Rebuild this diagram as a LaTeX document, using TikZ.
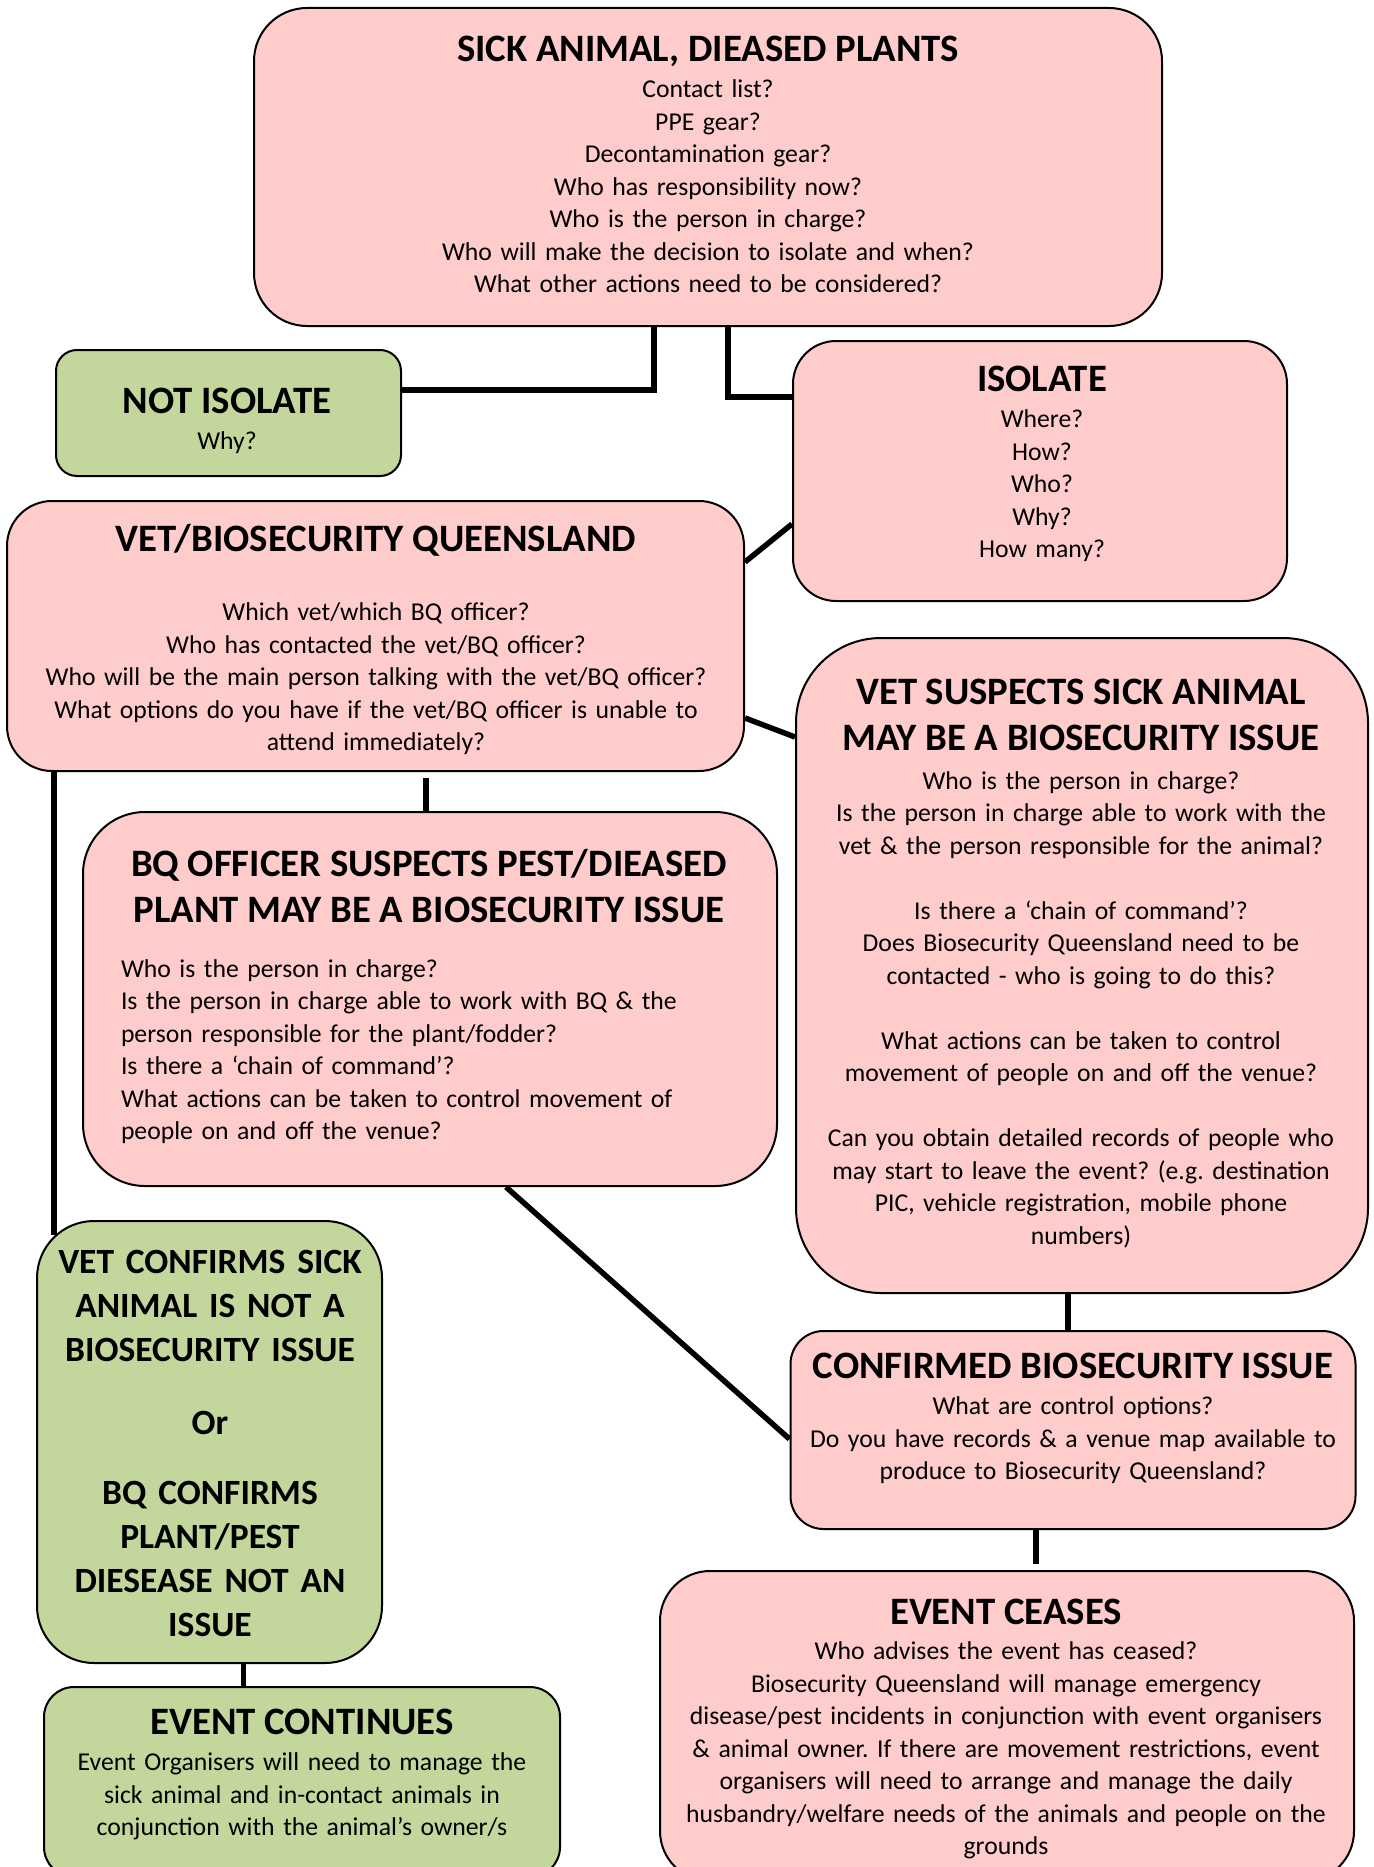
\documentclass[tikz,border=0pt]{standalone}
\usepackage{fontspec}
\setmainfont{Carlito}
\usepackage{xcolor}
\definecolor{alertpink}{RGB}{255,204,204}
\definecolor{clearolive}{RGB}{195,214,155}
\setlength{\parindent}{0pt}
\frenchspacing

\newcommand{\bodysize}{\fontsize{25.7}{32.5}\selectfont}
\newcommand{\headsize}{\fontsize{38.8}{46.5}\selectfont\bfseries}
\newcommand{\boxhead}[2][4pt]{{\headsize\centering\rule{0pt}{30pt}#2\par}\vspace{#1}}

\begin{document}
\begin{tikzpicture}[x=1pt, y=-1pt,
    stage/.style={draw, line width=2pt, rounded corners=#1, inner sep=0pt},
    stage/.default=30pt,
    words/.style={inner sep=0pt, anchor=north, align=center, text width=#1, font=\bodysize},
    link/.style={line width=5.5pt}]
    \useasboundingbox (0,0) rectangle (1373,1867);
    \clip (0,0) rectangle (1373,1867);

    % Boxes
    \node[stage=53pt, fill=alertpink, minimum width=908pt, minimum height=318pt] (sick) at (708,167) {};
    \node[stage=21pt, fill=clearolive, minimum width=345pt, minimum height=126pt] (noiso) at (228.5,413) {};
    \node[stage=43pt, fill=alertpink, minimum width=494pt, minimum height=260pt] (iso) at (1040,471) {};
    \node[stage=45pt, fill=alertpink, minimum width=737pt, minimum height=270pt] (vetbq) at (375.5,636) {};
    \node[stage=85pt, fill=alertpink, minimum width=572pt, minimum height=655pt] (vetsus) at (1082,965.5) {};
    \node[stage=62pt, fill=alertpink, minimum width=694pt, minimum height=374pt] (bqsus) at (430,999) {};
    \node[stage=57pt, fill=clearolive, minimum width=345pt, minimum height=442pt] (nocase) at (209.5,1442) {};
    \node[stage=33pt, fill=alertpink, minimum width=565pt, minimum height=198pt] (confirmed) at (1073,1430) {};
    \node[stage=30pt, fill=clearolive, minimum width=516pt, minimum height=190pt] (continues) at (302,1782) {};
    \node[stage=50pt, fill=alertpink, minimum width=694pt, minimum height=310pt] (ceases) at (1007,1726) {};

    % Texts
    \node[words=880pt] (sicktext) at (708,31) {\boxhead{SICK ANIMAL, DIEASED PLANTS}
        Contact list?\\ PPE gear?\\ Decontamination gear?\\ Who has responsibility now?\\
        Who is the person in charge?\\ Who will make the decision to isolate and when?\\
        What other actions need to be considered?};
    \node[words=330pt] (noisotext) at (227,383) {\boxhead{NOT ISOLATE} Why?};
    \node[words=470pt] (isotext) at (1042,361) {\boxhead{ISOLATE}
        Where?\\ How?\\ Who?\\ Why?\\ How many?};
    \node[words=720pt] (vetbqtext) at (376,521) {\boxhead[37pt]{VET/BIOSECURITY QUEENSLAND}
        Which vet/which BQ officer?\\ Who has contacted the vet/BQ officer?\\
        Who will be the main person talking with the vet/BQ officer?\\
        What options do you have if the vet/BQ officer is unable to\\ attend immediately?};
    \node[words=550pt] (vetsustext) at (1081,674) {\boxhead[6pt]{VET SUSPECTS SICK ANIMAL\\ MAY BE A BIOSECURITY ISSUE}
        Who is the person in charge?\\ Is the person in charge able to work with the\\
        vet \& the person responsible for the animal?\\[32.5pt]
        Is there a ‘chain of command’?\\ Does Biosecurity Queensland need to be\\
        contacted - who is going to do this?\\[32.5pt]
        What actions can be taken to control\\ movement of people on and off the venue?\\[32.5pt]
        Can you obtain detailed records of people who\\ may start to leave the event? (e.g. destination\\
        PIC, vehicle registration, mobile phone\\ numbers)};
    \node[words=616pt, align=left] (bqsustext) at (429,846) {\boxhead[22pt]{BQ OFFICER SUSPECTS PEST/DIEASED\\ PLANT MAY BE A BIOSECURITY ISSUE}
        Who is the person in charge?\\ Is the person in charge able to work with BQ \& the\\
        person responsible for the plant/fodder?\\ Is there a ‘chain of command’?\\
        What actions can be taken to control movement of\\ people on and off the venue?};
    \node[words=345pt, font=\fontsize{35.5}{44}\selectfont\bfseries] (nocasetext) at (210,1243)
        {\rule{0pt}{30pt}VET CONFIRMS SICK\\ ANIMAL IS NOT A\\ BIOSECURITY ISSUE\\[29pt]
        Or\\[26pt] BQ CONFIRMS\\ PLANT/PEST\\ DIESEASE NOT AN\\ ISSUE};
    \node[words=555pt] (confirmedtext) at (1073,1348) {\boxhead{CONFIRMED BIOSECURITY ISSUE}
        What are control options?\\ Do you have records \& a venue map available to\\
        produce to Biosecurity Queensland?};
    \node[words=500pt] (continuestext) at (302,1704) {\boxhead{EVENT CONTINUES}
        Event Organisers will need to manage the\\ sick animal and in-contact animals in\\
        conjunction with the animal’s owner/s};
    \node[words=680pt] (ceasestext) at (1006,1594) {\boxhead[3pt]{EVENT CEASES}
        Who advises the event has ceased?\\ Biosecurity Queensland will manage emergency\\
        disease/pest incidents in conjunction with event organisers\\
        \& animal owner. If there are movement restrictions, event\\
        organisers will need to arrange and manage the daily\\
        husbandry/welfare needs of the animals and people on the\\ grounds};

    % Connectors
    \draw[link] ([xshift=-54pt]sick.south) |- ([yshift=23pt]noiso.east);
    \draw[link] ([xshift=20pt]sick.south) |- ([yshift=74pt]iso.west);
    \draw[link] ([yshift=-53pt]iso.west) -- ([yshift=74pt]vetbq.east);
    \draw[link] ([yshift=-82pt]vetbq.east) -- ([yshift=228.5pt]vetsus.west);
    \draw[link] ([xshift=-4pt]bqsus.north) -- ([xshift=-4pt,yshift=-6pt]vetbq.south -| bqsus.north);
    \draw[link] ([xshift=48pt]vetbq.south west) -- ([xshift=18pt,yshift=-15pt]nocase.north west);
    \draw[link] ([xshift=76pt]bqsus.south) -- ([yshift=-9pt]confirmed.west);
    \draw[link] ([xshift=-14pt]vetsus.south) -- ([xshift=-14pt]vetsus.south |- confirmed.north);
    \draw[link] ([xshift=-37pt]confirmed.south) -- ([xshift=-37pt,yshift=6pt]confirmed.south |- ceases.north);
    \draw[link] ([xshift=34pt]nocase.south) -- ([xshift=34pt]nocase.south |- continues.north);
\end{tikzpicture}
\end{document}
